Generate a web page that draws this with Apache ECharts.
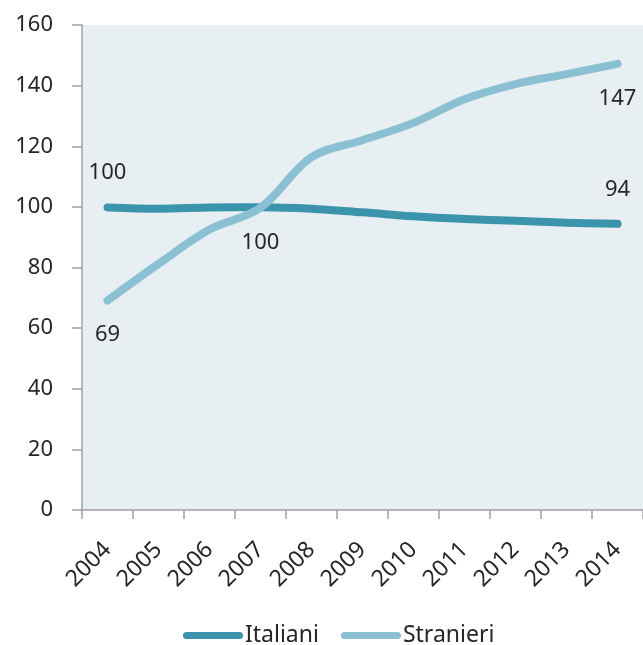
<!DOCTYPE html>
<html>
<head>
<meta charset="utf-8">
<script src="https://cdn.jsdelivr.net/npm/echarts@6/dist/echarts.min.js"></script>
<style>
html,body{margin:0;padding:0;background:#fff;}
#main{width:643px;height:645px;}
</style>
</head>
<body>
<div id="main"></div>
<script>
const years = ['2004','2005','2006','2007','2008','2009','2010','2011','2012','2013','2014'];
const italiani = [99.8, 99.4, 99.8, 99.9, 99.4, 98.2, 96.9, 96.0, 95.4, 94.8, 94.4];
const stranieri = [69.1, 81.2, 92.5, 99.7, 116.4, 122.0, 127.7, 135.5, 140.5, 143.8, 147.2];
const italianiLabelAt = {0: 'top', 10: 'top'};
const stranieriLabelAt = {0: 'bottom', 3: 'bottom', 10: 'bottom'};
const yTicks = [0, 20, 40, 60, 80, 100, 120, 140, 160];

const FONT = 'Noto Sans';
const TXT = '#262626';
const C_IT = '#3b94ac';
const C_ST = '#8bc0d3';

function withLabels(values, where) {
  return values.map((v, i) => {
    if (where[i]) {
      return {
        value: v,
        label: {
          show: true,
          position: where[i],
          distance: 23,
          formatter: (p) => String(Math.round(p.value)),
          fontFamily: FONT, fontSize: 22, color: TXT
        }
      };
    }
    return v;
  });
}

const chart = echarts.init(document.getElementById('main'), null, {renderer: 'canvas'});
chart.setOption({
  animation: false,
  backgroundColor: '#ffffff',
  grid: {
    left: 82, top: 25, width: 565, height: 485,
    show: true, backgroundColor: '#e8eff3', borderWidth: 0
  },
  xAxis: {
    type: 'category',
    data: years,
    boundaryGap: true,
    axisLine: {lineStyle: {color: '#a0a0a0', width: 1.5}},
    axisTick: {show: true, length: 9, lineStyle: {color: '#a0a0a0', width: 1.5}},
    axisLabel: {rotate: 45, margin: 36, fontFamily: FONT, fontSize: 23, color: TXT, interval: 0},
    splitLine: {show: false}
  },
  yAxis: {
    type: 'value',
    min: yTicks[0], max: yTicks[yTicks.length - 1], interval: 20,
    axisLine: {show: true, lineStyle: {color: '#a0a0a0', width: 1.5}},
    axisTick: {show: true, length: 10, lineStyle: {color: '#a0a0a0', width: 1.5}},
    axisLabel: {margin: 29, fontFamily: FONT, fontSize: 22, color: TXT},
    splitLine: {show: false}
  },
  legend: {
    left: 178, top: 619,
    itemWidth: 60, itemHeight: 7, itemGap: 22,
    icon: 'path://M3.5,0 H56.5 A3.5,3.5 0 0 1 56.5,7 H3.5 A3.5,3.5 0 0 1 3.5,0 Z',
    textStyle: {fontFamily: FONT, fontSize: 23, color: TXT, padding: [0, 0, 0, -3]},
    data: [
      {name: 'Italiani', itemStyle: {color: C_IT, opacity: 1}},
      {name: 'Stranieri', itemStyle: {color: C_ST, opacity: 1}}
    ]
  },
  series: [
    {
      name: 'Italiani', type: 'line', smooth: 0.35,
      data: withLabels(italiani, italianiLabelAt),
      showSymbol: true, symbol: 'circle', symbolSize: 1,
      lineStyle: {color: C_IT, width: 8, cap: 'round', join: 'round'},
      itemStyle: {color: 'rgba(0,0,0,0)', borderWidth: 0},
      z: 3
    },
    {
      name: 'Stranieri', type: 'line', smooth: 0.35,
      data: withLabels(stranieri, stranieriLabelAt),
      showSymbol: true, symbol: 'circle', symbolSize: 1,
      lineStyle: {color: C_ST, width: 8, cap: 'round', join: 'round'},
      itemStyle: {color: 'rgba(0,0,0,0)', borderWidth: 0},
      z: 4
    }
  ]
});
</script>
</body>
</html>
